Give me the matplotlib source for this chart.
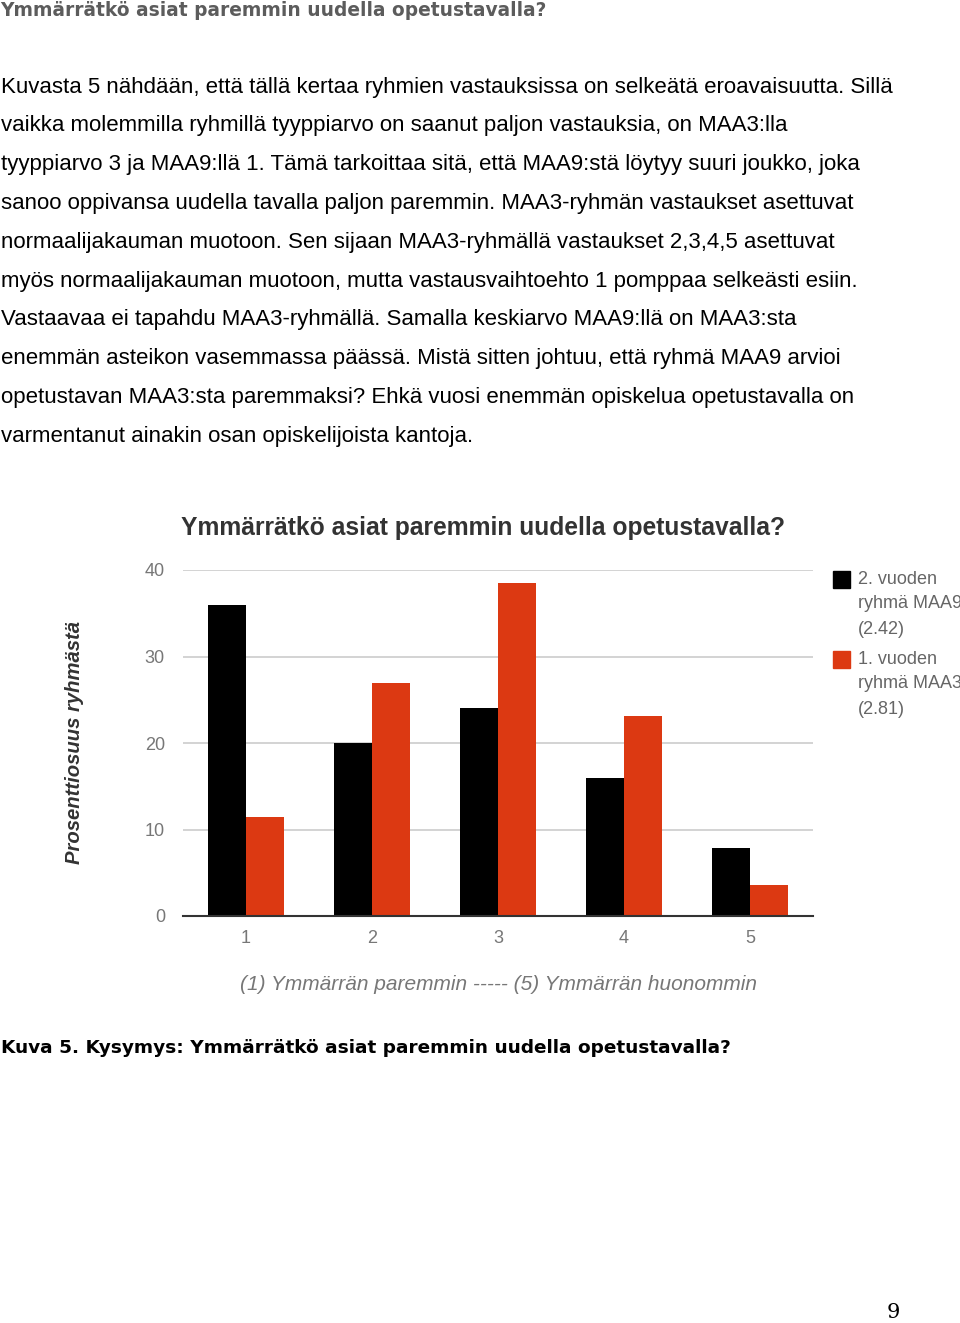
import matplotlib.pyplot as plt
import numpy as np

W, H = 960, 1323

heading = "Ymmärrätkö asiat paremmin uudella opetustavalla?"
paragraph = [
    "Kuvasta 5 nähdään, että tällä kertaa ryhmien vastauksissa on selkeätä eroavaisuutta. Sillä",
    "vaikka molemmilla ryhmillä tyyppiarvo on saanut paljon vastauksia, on MAA3:lla",
    "tyyppiarvo 3 ja MAA9:llä 1. Tämä tarkoittaa sitä, että MAA9:stä löytyy suuri joukko, joka",
    "sanoo oppivansa uudella tavalla paljon paremmin. MAA3-ryhmän vastaukset asettuvat",
    "normaalijakauman muotoon. Sen sijaan MAA3-ryhmällä vastaukset 2,3,4,5 asettuvat",
    "myös normaalijakauman muotoon, mutta vastausvaihtoehto 1 pomppaa selkeästi esiin.",
    "Vastaavaa ei tapahdu MAA3-ryhmällä. Samalla keskiarvo MAA9:llä on MAA3:sta",
    "enemmän asteikon vasemmassa päässä. Mistä sitten johtuu, että ryhmä MAA9 arvioi",
    "opetustavan MAA3:sta paremmaksi? Ehkä vuosi enemmän opiskelua opetustavalla on",
    "varmentanut ainakin osan opiskelijoista kantoja.",
]

categories = ["1", "2", "3", "4", "5"]
maa9 = [36.0, 20.0, 24.0, 15.9, 7.9]
maa3 = [11.4, 26.9, 38.5, 23.1, 3.6]
series_names = ["2. vuoden\nryhmä MAA9\n(2.42)", "1. vuoden\nryhmä MAA3\n(2.81)"]
colors = ["#000000", "#dc3912"]
yticks = [0, 10, 20, 30, 40]

chart_title = "Ymmärrätkö asiat paremmin uudella opetustavalla?"
xlabel = "(1) Ymmärrän paremmin ----- (5) Ymmärrän huonommin"
ylabel = "Prosenttiosuus ryhmästä"
caption = "Kuva 5. Kysymys: Ymmärrätkö asiat paremmin uudella opetustavalla?"


def fx(px):
    return px / W


def fy(py):
    return 1 - py / H


fig = plt.figure(figsize=(W / 100, H / 100), dpi=100)
fig.patch.set_facecolor("white")

# page text
fig.text(fx(0), fy(11), heading, fontsize=13.4, fontweight="bold", color="#5c5c5c",
         family="DejaVu Sans", va="center", ha="left")
for i, line in enumerate(paragraph):
    fig.text(fx(1), fy(87 + i * 38.8), line, fontsize=16, color="#000000",
             family="Liberation Sans", va="center", ha="left")

# chart
ax = fig.add_axes([fx(183), fy(916), (813 - 183) / W, (916 - 570) / H])
x = np.arange(len(categories)) + 1
bw = 0.3
ax.bar(x - bw / 2, maa9, bw, color=colors[0], zorder=3)
ax.bar(x + bw / 2, maa3, bw, color=colors[1], zorder=3)
ax.set_xlim(0.5, len(categories) + 0.5)
ax.set_ylim(0, 40)
ax.set_yticks(yticks)
ax.set_xticks(x)
ax.set_xticklabels(categories)
ax.yaxis.grid(True, color="#cccccc", linewidth=1.2, zorder=0)
for s in ["top", "right", "left"]:
    ax.spines[s].set_visible(False)
ax.spines["bottom"].set_color("#333333")
ax.spines["bottom"].set_linewidth(1.5)
ax.spines["bottom"].set_zorder(4)
ax.tick_params(axis="both", length=0, labelsize=13, labelcolor="#777777")
ax.tick_params(axis="y", pad=13)
ax.tick_params(axis="x", pad=10)
for lbl in ax.get_xticklabels() + ax.get_yticklabels():
    lbl.set_family("Liberation Sans")

fig.text(fx(483), fy(528), chart_title, fontsize=17.7, fontweight="bold", color="#333333",
         family="Liberation Sans", ha="center", va="center")
fig.text(fx(499), fy(984), xlabel, fontsize=15, style="italic", color="#777777",
         family="Liberation Sans", ha="center", va="center")
fig.text(fx(75), fy(742), ylabel, fontsize=14.6, style="italic", fontweight="bold",
         color="#333333", family="Liberation Sans", rotation=90, ha="center", va="center")

# legend
leg_y = [579, 659]
for name, c, ly in zip(series_names, colors, leg_y):
    fig.patches.append(plt.Rectangle((fx(833), fy(ly + 9)), 17 / W, 17 / H,
                                     transform=fig.transFigure, color=c))
    for j, part in enumerate(name.split("\n")):
        fig.text(fx(858), fy(ly + j * 25), part, fontsize=13, color="#666666",
                 family="Liberation Sans", ha="left", va="center")

# caption and page number
fig.text(fx(1), fy(1048), caption, fontsize=13.3, fontweight="bold", color="#000000",
         family="DejaVu Sans", ha="left", va="center")
fig.text(fx(893), fy(1312), "9", fontsize=15, color="#000000",
         family="DejaVu Serif", ha="center", va="center")

fig.savefig("out.png", dpi=100)
